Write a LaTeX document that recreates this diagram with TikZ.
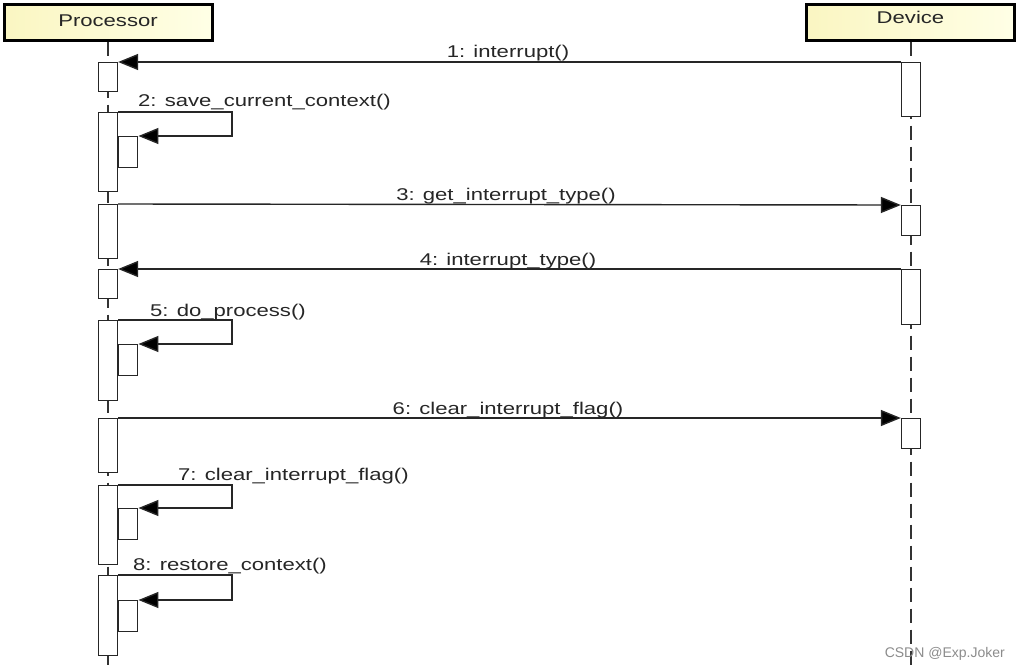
\documentclass[tikz,border=0pt]{standalone}
\usepackage{fontspec}
\setmainfont{Liberation Sans}
\newfontfamily\lbl[FakeStretch=1.3]{Liberation Sans}
\usetikzlibrary{arrows.meta,calc}
\definecolor{headfill}{HTML}{FAF6C2}
\definecolor{headfillr}{HTML}{FFFFE6}
\definecolor{txt}{HTML}{262626}
\begin{document}
\begin{tikzpicture}[x=1pt,y=-1pt,
  head/.style={draw=black,line width=3pt,left color=headfill,right color=headfillr,
    minimum width=208pt,minimum height=36pt,inner sep=0pt,
    font=\lbl\fontsize{17pt}{20pt}\selectfont,text=txt},
  lifeline/.style={draw=black!80,line width=2.4pt,dash pattern=on 14pt off 7pt},
  act/.style={draw=black!85,fill=white,line width=1.3pt,minimum width=19pt,inner sep=0pt,anchor=north},
  nest/.style={draw=black!85,fill=white,line width=1.3pt,minimum width=19pt,minimum height=31pt,inner sep=0pt,anchor=north west},
  msg/.style={draw=black!85,line width=1.4pt,-{Triangle[length=20pt,width=16pt,fill=black]}},
  lab/.style={font=\lbl\fontsize{17pt}{20pt}\selectfont,text=txt,inner sep=0pt},
]
\useasboundingbox (0,0) rectangle (1020,670);
\fill[white] (0,0) rectangle (1020,670);

% headers
\node[head] (P) at (108,22) {\raisebox{1.5pt}[\height][\depth]{Processor}};
\node[head] (D) at (910.5,22) {\raisebox{4.5pt}[\height][\depth]{Device}};

% lifelines
\coordinate (Pend) at (108,670);
\coordinate (Dend) at (911,670);
\draw[lifeline] (P.south) -- (Pend);
\draw[lifeline] ($(D.south)+(0.5,0)$) -- (Dend);

% processor activations
\node[act,minimum height=29pt] (p1) at (108,62) {};
\node[act,minimum height=79pt] (p2) at (108,112) {};
\node[act,minimum height=54pt] (p3) at (108,204) {};
\node[act,minimum height=29pt] (p4) at (108,269) {};
\node[act,minimum height=80pt] (p5) at (108,320) {};
\node[act,minimum height=54pt] (p6) at (108,418) {};
\node[act,minimum height=79pt] (p7) at (108,485) {};
\node[act,minimum height=80pt] (p8) at (108,575) {};

% device activations
\node[act,minimum height=54pt] (d1) at (911,62) {};
\node[act,minimum height=30pt] (d2) at (911,205) {};
\node[act,minimum height=55pt] (d3) at (911,269) {};
\node[act,minimum height=30pt] (d4) at (911,418) {};

% nested activations for self messages
\node[nest] (n2) at (p2.north east |- 0,136) {};
\node[nest] (n5) at (p5.north east |- 0,344) {};
\node[nest] (n7) at (p7.north east |- 0,508) {};
\node[nest] (n8) at (p8.north east |- 0,600) {};

% messages between lifelines
\draw[msg] (d1.north west) -- (p1.north east);
\draw[msg] (p3.north east) -- (d2.north west);
\draw[msg] (d3.north west) -- (p4.north east);
\draw[msg] (p6.north east) -- (d4.north west);

% self messages
\draw[msg] (p2.north east) -- ++(114,0) |- (n2.north east);
\draw[msg] (p5.north east) -- ++(114,0) |- (n5.north east);
\draw[msg] (p7.north east) -- ++(114,0) |- (n7.north east);
\draw[msg] (p8.north east) -- ++(114,0) |- (n8.north east);

% labels
\node[lab,anchor=base] (l1) at (508,57) {1: interrupt()};
\node[lab,anchor=base west] (l2) at (138,106) {2: save\_current\_context()};
\node[lab,anchor=base] (l3) at (506,200) {3: get\_interrupt\_type()};
\node[lab,anchor=base] (l4) at (508,265) {4: interrupt\_type()};
\node[lab,anchor=base west] (l5) at (150,316) {5: do\_process()};
\node[lab,anchor=base] (l6) at (508,414) {6: clear\_interrupt\_flag()};
\node[lab,anchor=base west] (l7) at (178,480) {7: clear\_interrupt\_flag()};
\node[lab,anchor=base west] (l8) at (133,570) {8: restore\_context()};

% watermark
\node[anchor=base east,text=black!45,font=\fontsize{14pt}{16pt}\selectfont,inner sep=0pt] (wm) at (1005,657) {CSDN @Exp.Joker};
\end{tikzpicture}
\end{document}
